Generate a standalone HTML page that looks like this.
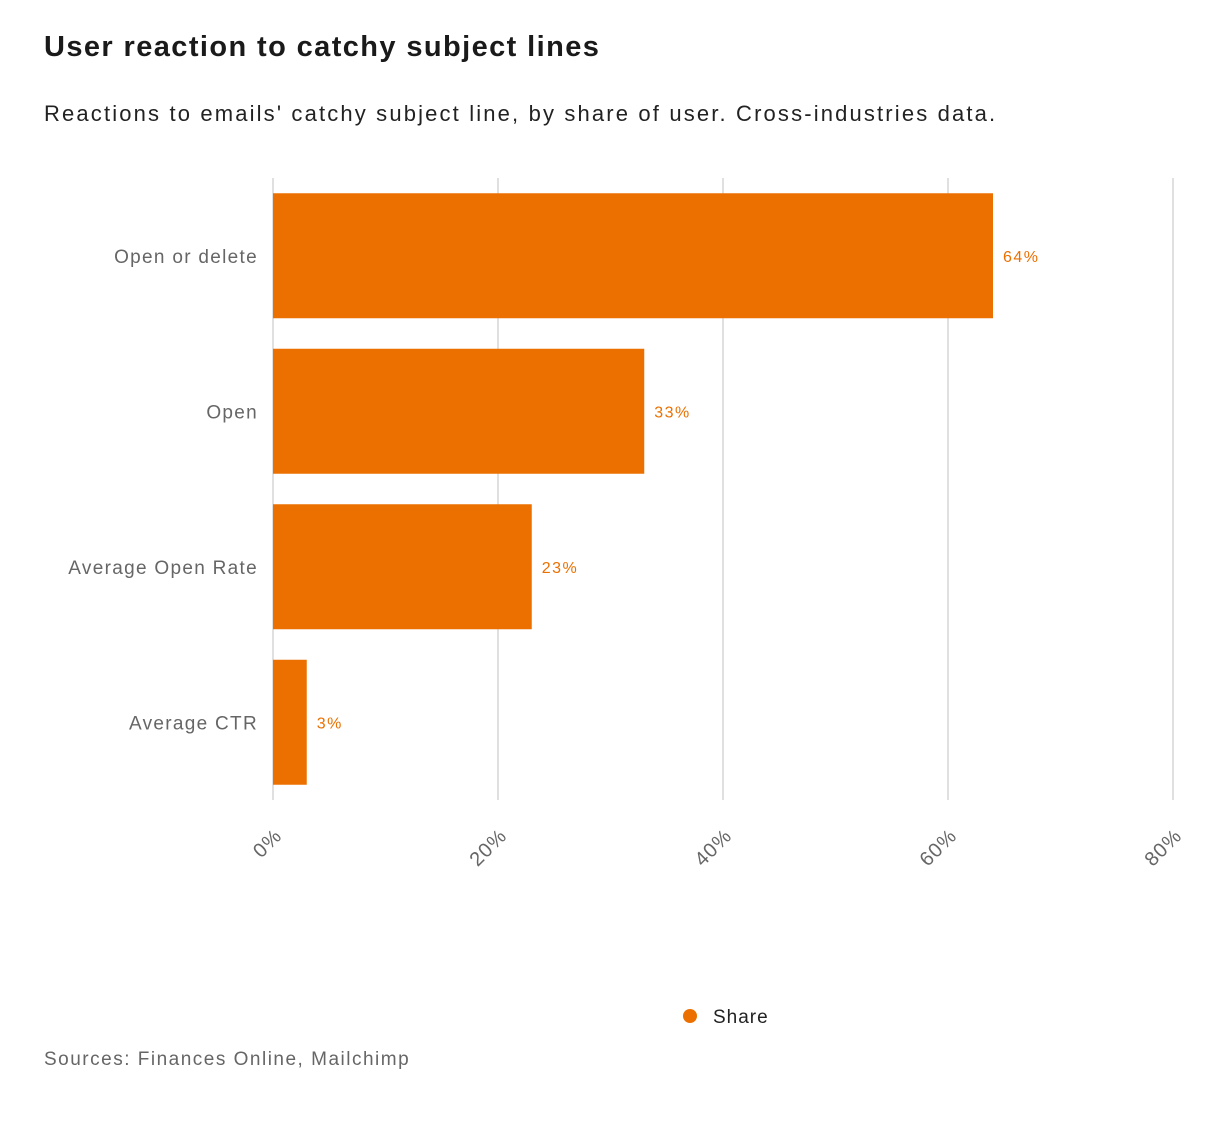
<!DOCTYPE html>
<html><head><meta charset="utf-8">
<style>
body{margin:0;background:#fff;font-family:"Liberation Sans","DejaVu Sans",sans-serif;}
#wrap{position:relative;width:1220px;height:1121px;overflow:hidden;}
h1{position:absolute;left:44px;top:31px;margin:0;font-size:29px;font-weight:bold;color:#1a1a1a;letter-spacing:1.4px;}
.sub{position:absolute;left:44px;top:101px;margin:0;font-size:22px;color:#222;letter-spacing:2.15px;}
.src{position:absolute;left:44px;top:1049px;font-size:19px;color:#666;letter-spacing:1.5px;}
</style></head><body>
<div id="wrap">
<h1>User reaction to catchy subject lines</h1>
<p class="sub">Reactions to emails' catchy subject line, by share of user. Cross-industries data.</p>
<svg id="chart" width="1220" height="1121" style="position:absolute;left:0;top:0"></svg>
<div class="src">Sources: Finances Online, Mailchimp</div>
</div>
<script>
const categories=["Open or delete","Open","Average Open Rate","Average CTR"];
const values=[64,33,23,3];
const ticks=[0,20,40,60,80];
const NS="http://www.w3.org/2000/svg";
const svg=document.getElementById('chart');
const x0=273,x1=1173,xmax=80,yTop=178,yBot=800;
const x=v=>x0+(v/xmax)*(x1-x0);
const step=(yBot-yTop)/categories.length;
const bh=125;
function mk(t,a){const e=document.createElementNS(NS,t);for(const k in a)e.setAttribute(k,a[k]);svg.appendChild(e);return e;}
ticks.forEach(t=>{
  const g=mk('line',{x1:x(t),x2:x(t),y1:yTop,y2:yBot,stroke:'#e0e0e0','stroke-width':2});
  
  
  const ax=x(t)+10, ay=837;
  const tx=mk('text',{x:ax,y:ay,'text-anchor':'end','font-size':20,fill:'#666','letter-spacing':1,transform:`rotate(-45 ${ax} ${ay})`});
  tx.textContent=t+'%';
  
  
});
categories.forEach((c,i)=>{
  const cy=yTop+step*i+step/2;
  const r=mk('rect',{x:x(0),y:cy-bh/2,width:x(values[i])-x(0),height:bh,fill:'#eb7000'});
  
  
  const l=mk('text',{x:258,y:cy+7,'text-anchor':'end','font-size':19,fill:'#666','letter-spacing':1.3});
  l.textContent=c;
  
  
  const v=mk('text',{x:x(values[i])+10,y:cy+6,'font-size':16,fill:'#eb7000','letter-spacing':1.5});
  v.textContent=values[i]+'%';
  
  
});
const d=mk('circle',{cx:690,cy:1016,r:7,fill:'#eb7000'});


const lt=mk('text',{x:713,y:1023,'font-size':19,fill:'#222','letter-spacing':1});
lt.textContent='Share';


</script>
</body></html>
